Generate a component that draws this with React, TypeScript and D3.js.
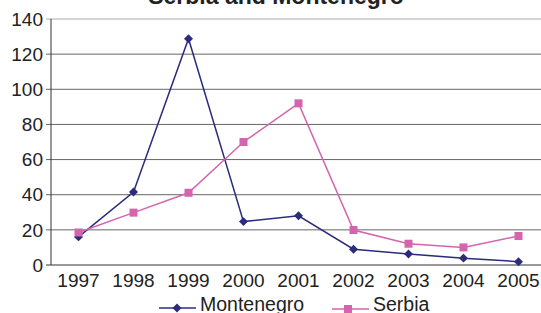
import React from "react";
import * as d3 from "d3";

const years = ["1997", "1998", "1999", "2000", "2001", "2002", "2003", "2004", "2005"];
const montenegro = [16, 41.5, 128.8, 24.7, 28, 9, 6.3, 3.9, 1.9];
const serbia = [18.5, 29.8, 41.1, 70, 92, 19.9, 12.1, 10, 16.5];
const yTicks = [0, 20, 40, 60, 80, 100, 120, 140];
const title = "Serbia and Montenegro";

const W = 541;
const H = 313;
const left = 51;
const right = 546;
const top = 19;
const bottom = 265;
const font = "Liberation Sans, Arial, Helvetica, sans-serif";
const navy = "#2C2C7C";
const pink = "#D464AE";

export default function App() {
  const x = d3.scaleBand<string>().domain(years).range([left, right]);
  const y = d3.scaleLinear().domain([0, 140]).range([bottom, top]);
  const cx = (d: string) => (x(d) as number) + x.bandwidth() / 2;
  const line = d3
    .line<number>()
    .x((_, i) => cx(years[i]))
    .y((v) => y(v));
  const diamond = d3.symbol().type(d3.symbolSquare).size(40)() as string;

  return (
    <svg
      width={W}
      height={H}
      style={{ position: "absolute", left: 0, top: 0, background: "#fff" }}
      fontFamily={font}
    >
      <text x={276} y={3.5} textAnchor="middle" fontSize={23} fontWeight="bold" fill="#222">
        {title}
      </text>
      {yTicks.map((t) => (
        <g key={t}>
          <line
            x1={left - 5}
            x2={W}
            y1={y(t)}
            y2={y(t)}
            stroke={t === 140 ? "#aaa" : t === 0 ? "#333" : "#666"}
            strokeWidth={1}
          />
          <text x={43} y={y(t)} dy="0.35em" textAnchor="end" fontSize={19} fill="#222">
            {t}
          </text>
        </g>
      ))}
      <line x1={left} x2={left} y1={top} y2={bottom} stroke="#333" strokeWidth={1} />
      {years.map((yr) => (
        <text key={yr} x={cx(yr)} y={287} textAnchor="middle" fontSize={19} fill="#222">
          {yr}
        </text>
      ))}
      <path d={line(montenegro) as string} fill="none" stroke={navy} strokeWidth={1.5} />
      <path d={line(serbia) as string} fill="none" stroke={pink} strokeWidth={1.5} />
      {montenegro.map((v, i) => (
        <path
          key={"m" + i}
          d={diamond}
          transform={`translate(${cx(years[i])},${y(v)}) rotate(45)`}
          fill={navy}
        />
      ))}
      {serbia.map((v, i) => (
        <rect key={"s" + i} x={cx(years[i]) - 4} y={y(v) - 4} width={8} height={8} fill={pink} />
      ))}
      <g>
        <line x1={159} x2={196} y1={308} y2={308} stroke={navy} strokeWidth={1.5} />
        <path d={diamond} transform="translate(177,308) rotate(45)" fill={navy} />
        <text x={200} y={311} fontSize={19.5} fill="#222">Montenegro</text>
        <line x1={332} x2={369} y1={309} y2={309} stroke={pink} strokeWidth={1.5} />
        <rect x={344} y={305} width={8} height={8} fill={pink} />
        <text x={373} y={311} fontSize={19.5} fill="#222">Serbia</text>
      </g>
    </svg>
  );
}
